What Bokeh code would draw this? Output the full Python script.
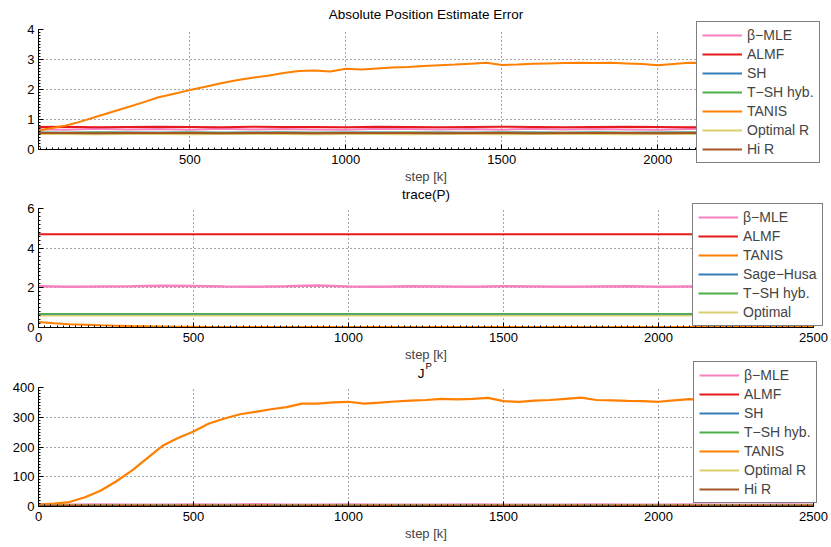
from bokeh.plotting import figure
from bokeh.layouts import column
from bokeh.models import Legend, LegendItem, Range1d, SingleIntervalTicker, Label, GridBox
from bokeh.embed import file_html
from bokeh.resources import INLINE

FONT = "Liberation Sans"

# ---------------- colours ----------------
C_BMLE = "#f781bf"
C_ALMF = "#e41a1c"
C_SH = "#377eb8"
C_TSH = "#4daf4a"
C_TANIS = "#ff7f00"
C_OPT = "#dccf6f"
C_HIR = "#a65628"

# ---------------- data ----------------
steps50 = list(range(0, 2501, 50))
steps100 = list(range(0, 2501, 100))

# Plot 1: Absolute Position Estimate Error
err_tanis = [0.60, 0.70, 0.79, 0.93, 1.09, 1.25, 1.41, 1.57, 1.74, 1.86,
             1.98, 2.09, 2.21, 2.31, 2.39, 2.46, 2.55, 2.62, 2.63, 2.60,
             2.69, 2.67, 2.70, 2.73, 2.75, 2.78, 2.81, 2.83, 2.86, 2.89,
             2.82, 2.83, 2.86, 2.87, 2.88, 2.89, 2.88, 2.89, 2.87, 2.85,
             2.81, 2.85, 2.89, 2.88, 2.87, 2.89, 2.88, 2.86, 2.88, 2.89, 2.88]
err_almf = [0.75, 0.76, 0.74, 0.75, 0.76, 0.75, 0.74, 0.76, 0.75, 0.75, 0.74, 0.76, 0.75,
            0.74, 0.75, 0.76, 0.75, 0.74, 0.75, 0.76, 0.75, 0.74, 0.75, 0.76, 0.75, 0.75]
err_bmle = [0.68, 0.66, 0.69, 0.67, 0.68, 0.66, 0.69, 0.67, 0.68, 0.67, 0.66, 0.69, 0.68,
            0.67, 0.68, 0.66, 0.69, 0.67, 0.68, 0.67, 0.66, 0.68, 0.69, 0.67, 0.68, 0.67]
err_sh = [0.57, 0.56, 0.57, 0.57, 0.56, 0.57, 0.56, 0.57, 0.57, 0.56, 0.57, 0.57, 0.56,
          0.57, 0.56, 0.57, 0.57, 0.56, 0.57, 0.56, 0.57, 0.57, 0.56, 0.57, 0.56, 0.57]
err_tsh = [0.56, 0.56, 0.57, 0.56, 0.56, 0.57, 0.56, 0.56, 0.57, 0.56, 0.56, 0.56, 0.57,
           0.56, 0.56, 0.57, 0.56, 0.56, 0.57, 0.56, 0.56, 0.57, 0.56, 0.56, 0.57, 0.56]
err_opt = [0.52, 0.52, 0.51, 0.52, 0.52, 0.51, 0.52, 0.52, 0.52, 0.51, 0.52, 0.52, 0.51,
           0.52, 0.52, 0.51, 0.52, 0.52, 0.52, 0.51, 0.52, 0.52, 0.51, 0.52, 0.52, 0.52]
err_hir = [0.55, 0.55, 0.54, 0.55, 0.55, 0.55, 0.54, 0.55, 0.55, 0.54, 0.55, 0.55, 0.55,
           0.54, 0.55, 0.55, 0.54, 0.55, 0.55, 0.55, 0.54, 0.55, 0.55, 0.54, 0.55, 0.55]

# Plot 2: trace(P)
tr_bmle = [2.08, 2.06, 2.07, 2.08, 2.10, 2.09, 2.07, 2.06, 2.08, 2.12, 2.07, 2.06, 2.08,
           2.07, 2.06, 2.08, 2.07, 2.06, 2.07, 2.08, 2.06, 2.07, 2.08, 2.07, 2.06, 2.07]
tr_almf = [4.70, 4.70, 4.70, 4.70, 4.70, 4.70, 4.70, 4.70, 4.70, 4.70, 4.70, 4.70, 4.70,
           4.70, 4.70, 4.70, 4.70, 4.70, 4.70, 4.70, 4.70, 4.70, 4.70, 4.70, 4.70, 4.70]
tr_tanis = [0.28, 0.22, 0.17, 0.14, 0.11, 0.09, 0.07, 0.06, 0.05, 0.04,
            0.035, 0.03, 0.03, 0.03, 0.03, 0.03, 0.03, 0.03, 0.03, 0.03,
            0.03, 0.03, 0.03, 0.03, 0.03, 0.03, 0.03, 0.03, 0.03, 0.03,
            0.03, 0.03, 0.03, 0.03, 0.03, 0.03, 0.03, 0.03, 0.03, 0.03,
            0.03, 0.03, 0.03, 0.03, 0.03, 0.03, 0.03, 0.03, 0.03, 0.03, 0.03]
tr_sh = [0.68, 0.68, 0.68, 0.68, 0.68, 0.68, 0.68, 0.68, 0.68, 0.68, 0.68, 0.68, 0.68,
         0.68, 0.68, 0.68, 0.68, 0.68, 0.68, 0.68, 0.68, 0.68, 0.68, 0.68, 0.68, 0.68]
tr_tsh = [0.69, 0.69, 0.69, 0.69, 0.69, 0.69, 0.69, 0.69, 0.69, 0.69, 0.69, 0.69, 0.69,
          0.69, 0.69, 0.69, 0.69, 0.69, 0.69, 0.69, 0.69, 0.69, 0.69, 0.69, 0.69, 0.69]
tr_opt = [0.63, 0.63, 0.63, 0.63, 0.63, 0.63, 0.63, 0.63, 0.63, 0.63, 0.63, 0.63, 0.63,
          0.63, 0.63, 0.63, 0.63, 0.63, 0.63, 0.63, 0.63, 0.63, 0.63, 0.63, 0.63, 0.63]

# Plot 3: J^P
j_tanis = [6, 10, 15, 31, 53, 84, 120, 162, 204, 230,
           252, 279, 296, 310, 318, 327, 334, 346, 346, 350,
           352, 346, 349, 353, 356, 358, 362, 360, 362, 365,
           354, 352, 356, 358, 362, 366, 358, 357, 355, 354,
           352, 357, 361, 358, 360, 357, 359, 361, 358, 360, 359]
j_bmle = [6, 6, 7, 6, 6, 7, 6, 8, 6, 6, 7, 6, 6, 6, 7, 6, 6, 6, 7, 6, 6, 7, 6, 6, 7, 6]
j_almf = [5, 5, 5, 5, 5, 5, 5, 5, 5, 5, 5, 5, 5, 5, 5, 5, 5, 5, 5, 5, 5, 5, 5, 5, 5, 5]
j_sh = [4, 4, 4, 4, 4, 4, 4, 4, 4, 4, 4, 4, 4, 4, 4, 4, 4, 4, 4, 4, 4, 4, 4, 4, 4, 4]
j_tsh = [4, 4, 4, 4, 4, 4, 4, 4, 4, 4, 4, 4, 4, 4, 4, 4, 4, 4, 4, 4, 4, 4, 4, 4, 4, 4]
j_opt = [3.5, 3.5, 3.5, 3.5, 3.5, 3.5, 3.5, 3.5, 3.5, 3.5, 3.5, 3.5, 3.5,
         3.5, 3.5, 3.5, 3.5, 3.5, 3.5, 3.5, 3.5, 3.5, 3.5, 3.5, 3.5, 3.5]
j_hir = [3, 3, 3, 3, 3, 3, 3, 3, 3, 3, 3, 3, 3, 3, 3, 3, 3, 3, 3, 3, 3, 3, 3, 3, 3, 3]

titles = ["Absolute Position Estimate Error", "trace(P)", "J", "P"]
xlabel = "step [k]"
labels_a = ["\u03b2\u2212MLE", "ALMF", "SH", "T\u2212SH hyb.", "TANIS", "Optimal R", "Hi R"]
labels_b = ["\u03b2\u2212MLE", "ALMF", "TANIS", "Sage\u2212Husa", "T\u2212SH hyb.", "Optimal"]

W, H = 831, 547


def make_fig(height, top, bottom, right, xr, yr, yint):
    p = figure(width=W, height=height, x_range=Range1d(*xr), y_range=Range1d(*yr),
               output_backend="svg", toolbar_location=None,
               min_border_left=38, min_border_right=right,
               min_border_top=top, min_border_bottom=bottom)
    p.outline_line_color = None
    p.background_fill_color = "white"
    p.border_fill_color = "white"
    p.xaxis.ticker = SingleIntervalTicker(interval=500, num_minor_ticks=25)
    p.yaxis.ticker = SingleIntervalTicker(interval=yint, num_minor_ticks=10)
    for ax in (p.xaxis[0], p.yaxis[0]):
        ax.axis_line_color = "black"
        ax.major_tick_in = 5
        ax.major_tick_out = 0
        ax.minor_tick_in = 2
        ax.minor_tick_out = 0
        ax.major_tick_line_color = "black"
        ax.minor_tick_line_color = "black"
        ax.major_label_text_font = FONT
        ax.major_label_text_font_size = "13px"
        ax.major_label_text_color = "black"
        ax.major_label_standoff = 5
    p.xaxis.axis_label = xlabel
    p.xaxis.axis_label_text_font = FONT
    p.xaxis.axis_label_text_font_size = "13px"
    p.xaxis.axis_label_text_font_style = "normal"
    p.xaxis.axis_label_standoff = 2
    p.yaxis.major_label_standoff = 4
    for g in (p.xgrid[0], p.ygrid[0]):
        g.grid_line_color = "#222222"
        g.grid_line_dash = "1 3"
        g.grid_line_width = 1
        g.grid_line_alpha = 0.8
    return p


# ---- figure 1 ----
p1 = make_fig(186, 29, 37, 16, (15, 2499), (0, 4), 1)
series1 = [(steps100, err_bmle), (steps100, err_almf), (steps100, err_sh), (steps100, err_tsh),
           (steps50, err_tanis), (steps100, err_opt), (steps100, err_hir)]
cols1 = [C_BMLE, C_ALMF, C_SH, C_TSH, C_TANIS, C_OPT, C_HIR]
for (xs, ys), c in zip(series1, cols1):
    p1.line(xs, ys, line_color=c, line_width=2)

# ---- figure 2 ----
p2 = make_fig(180, 22, 39, 18, (0, 2500), (0, 6), 2)
series2 = [(steps100, tr_bmle), (steps100, tr_almf), (steps50, tr_tanis),
           (steps100, tr_sh), (steps100, tr_tsh), (steps100, tr_opt)]
cols2 = [C_BMLE, C_ALMF, C_TANIS, C_SH, C_TSH, C_OPT]
widths2 = [2.5, 2, 2, 1.5, 1.5, 3]
for i in [0, 1, 2, 5, 3, 4]:
    xs, ys = series2[i]
    p2.line(xs, ys, line_color=cols2[i], line_width=widths2[i])

# ---- figure 3 ----
p3 = make_fig(181, 21, 41, 18, (0, 2500), (0, 400), 100)
series3 = [(steps100, j_bmle), (steps100, j_almf), (steps100, j_sh), (steps100, j_tsh),
           (steps50, j_tanis), (steps100, j_opt), (steps100, j_hir)]
for (xs, ys), c in zip(series3, cols1):
    p3.line(xs, ys, line_color=c, line_width=2.2)

main = column(p1, p2, p3, spacing=0)

# ---- transparent overlay for titles and legends (not clipped by the frames) ----
ov = figure(width=W, height=H, x_range=Range1d(0, W), y_range=Range1d(0, H),
            output_backend="svg", toolbar_location=None, min_border=0,
            x_axis_location=None, y_axis_location=None)
ov.grid.visible = False
ov.outline_line_color = None
ov.background_fill_alpha = 0
ov.border_fill_alpha = 0


def ov_text(x, y, t, size="13.5px", align="center"):
    ov.add_layout(Label(x=x, y=H - y, x_units="screen", y_units="screen", text=t,
                        text_font=FONT, text_font_size=size, text_align=align,
                        text_baseline="middle", text_color="black"))


ov_text(425.5, 14, titles[0])
ov_text(425.5, 194, titles[1])
ov_text(420.5, 373, titles[2])
ov_text(425, 365, titles[3], size="9.5px", align="left")


def make_legend(labels, colors, loc):
    items = []
    for lab, c in zip(labels, colors):
        # legend swatch renderer: a single-point line draws nothing on the canvas
        r = ov.line(x=[0], y=[0], line_color=c, line_width=2)
        items.append(LegendItem(label=lab, renderers=[r]))
    leg = Legend(items=items, location=loc,
                 border_line_color="black", border_line_width=1,
                 background_fill_color="white", background_fill_alpha=1.0,
                 label_text_font=FONT, label_text_font_size="14px",
                 glyph_width=40, glyph_height=16, label_height=16,
                 spacing=3, padding=5, label_standoff=5, margin=0)
    ov.add_layout(leg)


make_legend(labels_a, cols1, (696, H - 163))
make_legend(labels_b, cols2, (692, H - 326))
make_legend(labels_a, cols1, (693, H - 503))

grid = GridBox(children=[(main, 0, 0), (ov, 0, 0)])
open("out.html", "w").write(file_html(grid, INLINE))
